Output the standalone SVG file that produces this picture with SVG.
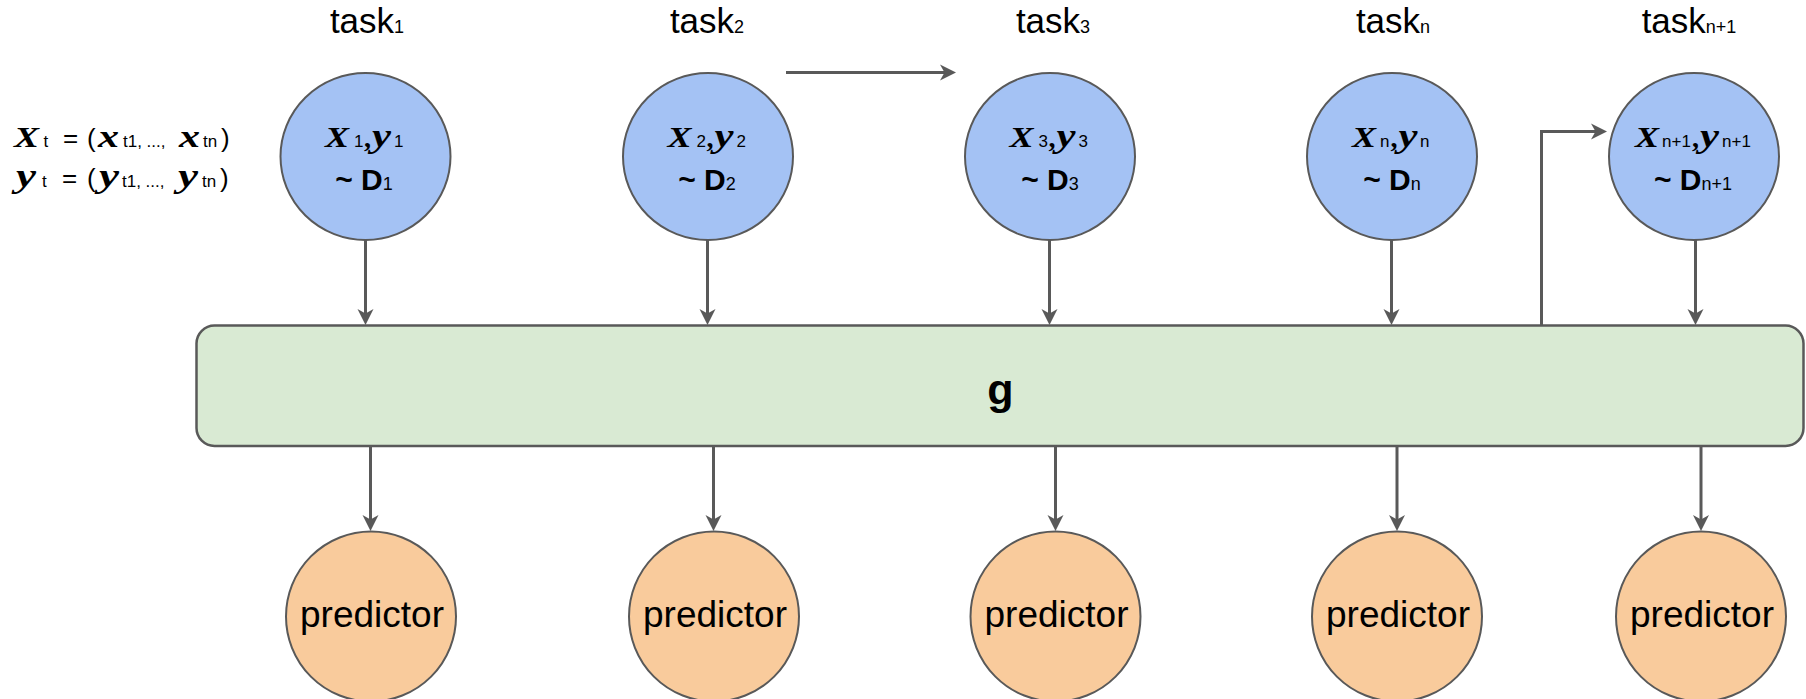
<svg xmlns="http://www.w3.org/2000/svg" width="1806" height="699" viewBox="0 0 1806 699">
  <style>
    .task { font-family: "Liberation Sans", Arial, sans-serif; font-size: 35px; fill: #000; }
    .tsub { font-size: 18px; }
    .mi { font-family: "Liberation Serif", "Times New Roman", serif; font-weight: bold; font-style: italic; fill: #000; }
    .bigX { font-size: 29px; }
    .smx { font-size: 31px; }
    .smy { font-size: 33px; }
    .sub { font-family: "Liberation Sans", Arial, sans-serif; font-size: 17px; fill: #000; }
    .op { font-family: "Liberation Sans", Arial, sans-serif; font-size: 26px; fill: #000; }
    .comma { font-family: "Liberation Serif", "Times New Roman", serif; font-weight: bold; font-size: 28px; fill: #000; }
    .dist { font-family: "Liberation Sans", Arial, sans-serif; font-size: 30px; font-weight: bold; fill: #000; }
    .dsub { font-size: 18px; font-weight: normal; }
    .data { fill: #a4c2f4; stroke: #595959; stroke-width: 2; }
    .pred { fill: #f9cb9c; stroke: #595959; stroke-width: 2; }
    .shared { fill: #d9ead3; stroke: #595959; stroke-width: 2.5; }
    .plabel { font-family: "Liberation Sans", Arial, sans-serif; font-size: 37px; fill: #000; }
    .glabel { font-family: "Liberation Sans", Arial, sans-serif; font-size: 43px; font-weight: bold; fill: #000; }
    .edge { fill: none; stroke: #595959; stroke-width: 3; marker-end: url(#head); }
  </style>
  <defs>
    <marker id="head" markerUnits="userSpaceOnUse" markerWidth="17" markerHeight="17" viewBox="0 0 17 17" refX="8" refY="8.5" orient="auto">
      <path d="M0,0.5 L16,8.5 L0,16.5 L4.5,8.5 Z" fill="#595959"/>
    </marker>
  </defs>

  <rect width="1806" height="699" fill="#fff"/>

  <!-- notation for a task's data set -->
  <g id="notation">
    <text class="mi bigX" x="14" y="146.5" textLength="25" lengthAdjust="spacingAndGlyphs">X</text>
    <text class="sub" x="43.5" y="146.5">t</text>
    <text class="op" x="63" y="146.5">=</text>
    <text class="op" x="87" y="146.5">(</text>
    <text class="mi smx" x="98" y="146.5" textLength="21" lengthAdjust="spacingAndGlyphs">x</text>
    <text class="sub" x="123" y="146.5">t1, ..., </text>
    <text class="mi smx" x="179" y="146.5" textLength="21" lengthAdjust="spacingAndGlyphs">x</text>
    <text class="sub" x="203" y="146.5">tn</text>
    <text class="op" x="221" y="146.5">)</text>

    <text class="mi smy" x="16" y="186.5" textLength="20" lengthAdjust="spacingAndGlyphs">y</text>
    <text class="sub" x="42" y="186.5">t</text>
    <text class="op" x="62" y="186.5">=</text>
    <text class="op" x="87" y="186.5">(</text>
    <text class="mi smy" x="99" y="186.5" textLength="20" lengthAdjust="spacingAndGlyphs">y</text>
    <text class="sub" x="122" y="186.5">t1, ..., </text>
    <text class="mi smy" x="178" y="186.5" textLength="20" lengthAdjust="spacingAndGlyphs">y</text>
    <text class="sub" x="202" y="186.5">tn</text>
    <text class="op" x="220" y="186.5">)</text>
  </g>

  <!-- task headers -->
  <g id="task-labels" class="task" text-anchor="middle">
    <text x="367" y="33">task<tspan class="tsub">1</tspan></text>
    <text x="707" y="33">task<tspan class="tsub">2</tspan></text>
    <text x="1053" y="33">task<tspan class="tsub">3</tspan></text>
    <text x="1393" y="33">task<tspan class="tsub">n</tspan></text>
    <text x="1689" y="33">task<tspan class="tsub">n+1</tspan></text>
  </g>

  <!-- data sets -->
  <g id="data-1">
    <ellipse class="data" cx="365.5" cy="156.5" rx="85" ry="83.5"/>
    <text class="mi bigX" x="325" y="147" textLength="24" lengthAdjust="spacingAndGlyphs">X</text>
    <text class="sub" x="354" y="147">1</text>
    <text class="comma" x="364" y="147">,</text>
    <text class="mi smy" x="372" y="147" textLength="19" lengthAdjust="spacingAndGlyphs">y</text>
    <text class="sub" x="394" y="147">1</text>
    <text class="dist" x="364" y="190" text-anchor="middle">~ D<tspan class="dsub">1</tspan></text>
  </g>
  <g id="data-2">
    <ellipse class="data" cx="708" cy="156.5" rx="85" ry="83.5"/>
    <text class="mi bigX" x="667.5" y="147" textLength="24" lengthAdjust="spacingAndGlyphs">X</text>
    <text class="sub" x="696.5" y="147">2</text>
    <text class="comma" x="706.5" y="147">,</text>
    <text class="mi smy" x="714.5" y="147" textLength="19" lengthAdjust="spacingAndGlyphs">y</text>
    <text class="sub" x="736.5" y="147">2</text>
    <text class="dist" x="707" y="190" text-anchor="middle">~ D<tspan class="dsub">2</tspan></text>
  </g>
  <g id="data-3">
    <ellipse class="data" cx="1050" cy="156.5" rx="85" ry="83.5"/>
    <text class="mi bigX" x="1009.5" y="147" textLength="24" lengthAdjust="spacingAndGlyphs">X</text>
    <text class="sub" x="1038.5" y="147">3</text>
    <text class="comma" x="1048.5" y="147">,</text>
    <text class="mi smy" x="1056.5" y="147" textLength="19" lengthAdjust="spacingAndGlyphs">y</text>
    <text class="sub" x="1078.5" y="147">3</text>
    <text class="dist" x="1050" y="190" text-anchor="middle">~ D<tspan class="dsub">3</tspan></text>
  </g>
  <g id="data-n">
    <ellipse class="data" cx="1392" cy="156.5" rx="85" ry="83.5"/>
    <text class="mi bigX" x="1352" y="147" textLength="24" lengthAdjust="spacingAndGlyphs">X</text>
    <text class="sub" x="1380" y="147">n</text>
    <text class="comma" x="1390.5" y="147">,</text>
    <text class="mi smy" x="1398.5" y="147" textLength="19" lengthAdjust="spacingAndGlyphs">y</text>
    <text class="sub" x="1420" y="147">n</text>
    <text class="dist" x="1392" y="190" text-anchor="middle">~ D<tspan class="dsub">n</tspan></text>
  </g>
  <g id="data-n1">
    <ellipse class="data" cx="1694" cy="156.5" rx="85" ry="83.5"/>
    <text class="mi bigX" x="1635" y="147" textLength="24" lengthAdjust="spacingAndGlyphs">X</text>
    <text class="sub" x="1662" y="147">n+1</text>
    <text class="comma" x="1692" y="147">,</text>
    <text class="mi smy" x="1700" y="147" textLength="19" lengthAdjust="spacingAndGlyphs">y</text>
    <text class="sub" x="1722" y="147">n+1</text>
    <text class="dist" x="1693" y="190" text-anchor="middle">~ D<tspan class="dsub">n+1</tspan></text>
  </g>

  <!-- shared representation -->
  <g id="g">
    <rect class="shared" x="196.5" y="325.5" width="1607" height="120.5" rx="18" ry="18"/>
    <text class="glabel" x="1000.5" y="404" text-anchor="middle">g</text>
  </g>

  <!-- task-specific predictors -->
  <g id="predictor-1">
    <circle class="pred" cx="371" cy="616.5" r="85"/>
    <text class="plabel" x="372" y="627" text-anchor="middle">predictor</text>
  </g>
  <g id="predictor-2">
    <circle class="pred" cx="714" cy="616.5" r="85"/>
    <text class="plabel" x="715" y="627" text-anchor="middle">predictor</text>
  </g>
  <g id="predictor-3">
    <circle class="pred" cx="1055.5" cy="616.5" r="85"/>
    <text class="plabel" x="1056.5" y="627" text-anchor="middle">predictor</text>
  </g>
  <g id="predictor-n">
    <circle class="pred" cx="1397" cy="616.5" r="85"/>
    <text class="plabel" x="1398" y="627" text-anchor="middle">predictor</text>
  </g>
  <g id="predictor-n1">
    <circle class="pred" cx="1701" cy="616.5" r="85"/>
    <text class="plabel" x="1702" y="627" text-anchor="middle">predictor</text>
  </g>

  <!-- connectors -->
  <g id="connectors">
    <line class="edge" x1="786" y1="72.5" x2="948" y2="72.5"/>
    <line class="edge" x1="365.5" y1="240" x2="365.5" y2="317"/>
    <line class="edge" x1="707.5" y1="240" x2="707.5" y2="317"/>
    <line class="edge" x1="1049.5" y1="240" x2="1049.5" y2="317"/>
    <line class="edge" x1="1391.5" y1="240" x2="1391.5" y2="317"/>
    <line class="edge" x1="1695.5" y1="240" x2="1695.5" y2="317"/>
    <path class="edge" d="M1541.5,325.5 V131.5 H1599"/>
    <line class="edge" x1="370.5" y1="446" x2="370.5" y2="523"/>
    <line class="edge" x1="713.5" y1="446" x2="713.5" y2="523"/>
    <line class="edge" x1="1055.5" y1="446" x2="1055.5" y2="523"/>
    <line class="edge" x1="1397" y1="446" x2="1397" y2="523"/>
    <line class="edge" x1="1701" y1="446" x2="1701" y2="523"/>
  </g>
</svg>
